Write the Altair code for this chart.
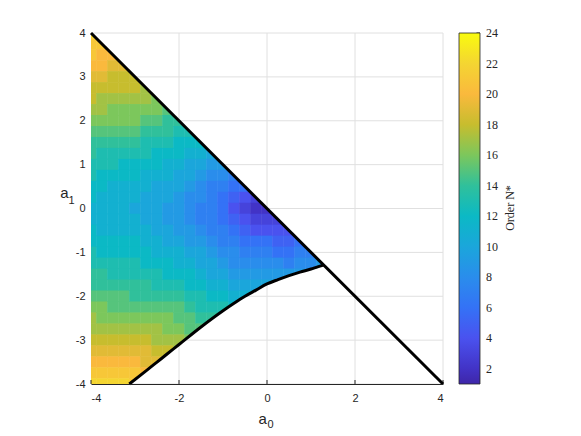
import altair as alt
import pandas as pd
import numpy as np

# ---------------- data ----------------
# column centres (a0); each column lists N* from its top cell (a1 = min(4, -a0)) downward, step 0.25
a0_columns = [-4.0, -3.75, -3.5, -3.25, -3.0, -2.75, -2.5, -2.25, -2.0, -1.75, -1.5,
              -1.25, -1.0, -0.75, -0.5, -0.25, 0.0, 0.25, 0.5, 0.75, 1.0, 1.25]

n_m400 = [22, 21, 21, 20, 19, 18, 18, 17, 16, 15, 14, 14, 13, 13, 12, 12, 11,
          11, 12, 12, 13, 13, 14, 14, 15, 16, 17, 17, 18, 19, 20, 21, 22]
n_m375 = [21, 20, 20, 19, 18, 17, 17, 16, 15, 14, 13, 13, 12, 12, 11, 11,
          11, 11, 12, 12, 13, 14, 14, 15, 16, 16, 17, 18, 19, 20, 21, 22]
n_m350 = [20, 19, 18, 18, 17, 16, 16, 15, 14, 13, 13, 12, 11, 11, 11,
          11, 11, 12, 12, 13, 13, 14, 15, 15, 16, 17, 18, 19, 20, 21, 22]
n_m325 = [19, 18, 18, 17, 16, 16, 15, 14, 13, 12, 12, 11, 11, 11,
          11, 11, 12, 12, 13, 13, 14, 15, 15, 16, 17, 18, 19, 20, 21, 22]
n_m300 = [18, 18, 17, 16, 16, 15, 14, 13, 12, 12, 11, 11, 10,
          11, 11, 12, 12, 13, 13, 14, 14, 15, 16, 17, 18, 19, 20, 21, 21]
n_m275 = [17, 17, 16, 15, 14, 13, 13, 12, 11, 11, 10, 10,
          10, 11, 11, 12, 12, 13, 14, 14, 15, 16, 17, 18, 19, 19, 20]
n_m250 = [16, 16, 15, 14, 13, 12, 12, 11, 10, 10, 10,
          10, 10, 11, 11, 12, 13, 13, 14, 15, 16, 17, 17, 18, 19]
n_m225 = [15, 14, 14, 13, 12, 11, 11, 10, 10, 9,
          9, 10, 10, 11, 12, 12, 13, 14, 15, 16, 16, 17, 18, 19]
n_m200 = [14, 13, 12, 12, 11, 10, 10, 9, 9,
          9, 9, 10, 11, 11, 12, 13, 14, 15, 15, 16, 17, 17]
n_m175 = [13, 12, 11, 10, 10, 9, 8, 8,
          8, 9, 9, 10, 11, 12, 12, 13, 14, 15, 15, 16]
n_m150 = [12, 11, 10, 9, 8, 8, 7,
          7, 8, 9, 10, 10, 11, 12, 13, 13, 14, 15]
n_m125 = [10, 9, 8, 7, 7, 7,
          7, 7, 8, 9, 10, 10, 11, 12, 13, 14]
n_m100 = [9, 8, 7, 6, 6,
          6, 7, 7, 8, 9, 10, 11, 12, 13, 13]
n_m075 = [7, 6, 5, 4,
          5, 6, 7, 8, 8, 9, 10, 11, 12]
n_m050 = [6, 4, 3,
          4, 5, 6, 7, 8, 9, 10, 11]
n_m025 = [3, 2,
          3, 4, 6, 7, 8, 9, 10, 11]
n_p000 = [2, 3, 4, 6, 7, 8, 9, 10]
n_p025 = [3, 4, 5, 6, 8, 9, 10]
n_p050 = [4, 5, 6, 7, 9]
n_p075 = [6, 7, 8, 9]
n_p100 = [7, 8, 9]
n_p125 = [9]

n_columns = [n_m400, n_m375, n_m350, n_m325, n_m300, n_m275, n_m250, n_m225, n_m200,
             n_m175, n_m150, n_m125, n_m100, n_m075, n_m050, n_m025, n_p000, n_p025,
             n_p050, n_p075, n_p100, n_p125]

# region boundaries
diag_a0 = [-4.0, 4.0]
diag_a1 = [4.0, -4.0]
curve_a0 = [-3.13, -2.75, -2.5, -2.25, -2.0, -1.5, -1.0, -0.75, -0.5, -0.25,
            0.0, 0.25, 0.5, 0.75, 1.0, 1.15, 1.28]
curve_a1 = [-4.0, -3.7, -3.5, -3.3, -3.1, -2.7, -2.33, -2.16, -2.0, -1.86,
            -1.72, -1.62, -1.53, -1.45, -1.38, -1.33, -1.29]

x_ticks = [-4, -2, 0, 2, 4]
y_ticks = [-4, -3, -2, -1, 0, 1, 2, 3, 4]

cb_domain = [1, 2, 4, 6, 8, 10, 12, 14, 16, 18, 20, 22, 24]
cb_colors = ["#3e26a8", "#4233c6", "#4a52ef", "#3472f6", "#2a8dec", "#1ba6db", "#0bb9c5",
             "#30c09b", "#7cc75c", "#c7bd2e", "#fab93d", "#f4d532", "#f9fb0e"]
cb_ticks = [2, 4, 6, 8, 10, 12, 14, 16, 18, 20, 22, 24]

# ---------------- tables ----------------
STEP = 0.25
OVER = 0.006  # tiny overlap so neighbouring cells leave no hairline seams
rows = []
for a0, col in zip(a0_columns, n_columns):
    top = min(4.0, -a0)
    for j, n in enumerate(col):
        a1 = top - STEP * j
        rows.append({"x0": a0 - STEP / 2 - OVER, "x1": a0 + STEP / 2 + OVER,
                     "y0": a1 - STEP / 2 - OVER, "y1": a1 + STEP / 2 + OVER, "N": n})
cells = pd.DataFrame(rows)

upper_mask = pd.DataFrame({"a0": diag_a0, "a1": diag_a1, "edge": [4.0, 4.0]})
lower_mask = pd.DataFrame({"a0": curve_a0 + [4.0], "a1": curve_a1 + [-4.0],
                           "edge": [-4.0] * (len(curve_a0) + 1)})
diag = pd.DataFrame({"a0": diag_a0, "a1": diag_a1})
curve = pd.DataFrame({"a0": curve_a0, "a1": curve_a1})

# grid line pieces that lie outside the coloured region
segs = []
for c in x_ticks:
    lo = max(-c, -4)
    if lo < 4:
        segs.append((c, lo, c, 4))
    if c > curve_a0[-1]:
        if -c > -4:
            segs.append((c, -4, c, -c))
    elif c >= curve_a0[0]:
        segs.append((c, -4, c, float(np.interp(c, curve_a0, curve_a1))))
for r in y_ticks:
    if r >= curve_a1[-1]:
        start = -r
    else:
        start = float(np.interp(r, curve_a1, curve_a0))
    if start < 4:
        segs.append((start, r, 4, r))
grid = pd.DataFrame(segs, columns=["x", "y", "x2", "y2"])
ticks = pd.DataFrame({"t": x_ticks})

# ---------------- chart ----------------
W, H = 352, 351
CB_X, CB_W = 368, 21
xs = alt.Scale(domain=[-4, 4], nice=False, zero=False)
ys = alt.Scale(domain=[-4, 4], nice=False, zero=False)
cscale = alt.Scale(type="linear", domain=cb_domain, range=cb_colors, interpolate="rgb")
AX = "#262626"

# colour-bar tick positions (pixels along the bar) from the colour-scale limits
cb_lo, cb_hi = cb_domain[0], cb_domain[-1]
cbt = pd.DataFrame({"v": cb_ticks})
cbt["py"] = (cb_hi - cbt["v"]) / (cb_hi - cb_lo) * H

xaxis = alt.Axis(values=x_ticks, grid=False, ticks=False, domainColor=AX, domainWidth=1,
                 labelFont="Liberation Sans", labelFontSize=11, labelColor=AX,
                 labelPadding=8, title=None, zindex=1, labelExpr="'' + datum.value")
yaxis = alt.Axis(values=y_ticks, grid=False, ticks=False, domain=False,
                 labelFont="Liberation Sans", labelFontSize=11, labelColor=AX,
                 labelPadding=6, title=None, labelExpr="'' + datum.value")

legend = alt.Legend(type="gradient", orient="none", legendX=CB_X, legendY=0,
                    direction="vertical",
                    gradientLength=H, gradientThickness=CB_W, values=cb_ticks[:-1], title=None,
                    labelFont="Liberation Serif", labelFontSize=12, labelColor=AX,
                    labelOffset=6, labelBaseline="middle",
                    gradientStrokeColor=AX, gradientStrokeWidth=0.8)


def X(f):
    return alt.X(f, scale=xs, axis=xaxis)


def Y(f):
    return alt.Y(f, scale=ys, axis=yaxis)


heat = alt.Chart(cells).mark_rect(clip=True, strokeWidth=0).encode(
    x=X("x0:Q"), x2="x1:Q",
    y=Y("y0:Q"), y2="y1:Q",
    color=alt.Color("N:Q", scale=cscale, legend=legend),
)

mask_up = alt.Chart(upper_mask).mark_area(color="white").encode(
    x=X("a0:Q"), y=Y("a1:Q"), y2="edge:Q",
)
mask_low = alt.Chart(lower_mask).mark_area(color="white", interpolate="monotone").encode(
    x=X("a0:Q"), y=Y("a1:Q"), y2="edge:Q",
)
grid_rules = alt.Chart(grid).mark_rule(color="#e0e0e0", strokeWidth=1).encode(
    x=X("x:Q"), x2="x2:Q", y=Y("y:Q"), y2="y2:Q",
)
tick_rules = alt.Chart(ticks).mark_rule(color=AX, strokeWidth=1).encode(
    x=X("t:Q"), y=alt.value(H), y2=alt.value(H - 4),
)
diag_line = alt.Chart(diag).mark_line(color="black", strokeWidth=3).encode(
    x=X("a0:Q"), y=Y("a1:Q"),
)
curve_line = alt.Chart(curve).mark_line(color="black", strokeWidth=3,
                                        interpolate="monotone").encode(
    x=X("a0:Q"), y=Y("a1:Q"),
)
cb_tick_marks = alt.Chart(cbt).mark_rule(color=AX, strokeWidth=1).encode(
    x=alt.value(CB_X + CB_W - 3.5), x2=alt.value(CB_X + CB_W),
    y=alt.Y("py:Q", scale=None),
)
top_label = alt.Chart(pd.DataFrame({"t": [str(cb_ticks[-1])]})).mark_text(
    font="Liberation Serif", fontSize=12, color=AX, align="left", baseline="middle"
).encode(x=alt.value(CB_X + CB_W + 6), y=alt.value(0), text="t:N")


def label(txt, x, y, size, angle=0, font="Liberation Sans", baseline="alphabetic"):
    return alt.Chart(pd.DataFrame({"t": [txt]})).mark_text(
        font=font, fontSize=size, color=AX, align="center", baseline=baseline, angle=angle
    ).encode(x=alt.value(x), y=alt.value(y), text="t:N")


titles = [
    label("a", 171.7, 391, 15),
    label("0", 179.5, 394.5, 11),
    label("a", -26.5, 165, 15),
    label("1", -19.5, 171, 11),
    label("Order N*", 418.5, 175, 12, angle=270, font="Liberation Serif", baseline="middle"),
]

chart = alt.layer(heat, mask_up, mask_low, grid_rules, tick_rules, diag_line, curve_line,
                  cb_tick_marks, top_label, *titles).properties(
    width=W, height=H,
    padding={"left": 83, "top": 25, "right": 130, "bottom": 44},
    autosize=alt.AutoSizeParams(type="none"),
    background="white",
).configure_view(strokeWidth=0)

chart.save("out.html", embed_options={"renderer": "svg", "actions": False})
